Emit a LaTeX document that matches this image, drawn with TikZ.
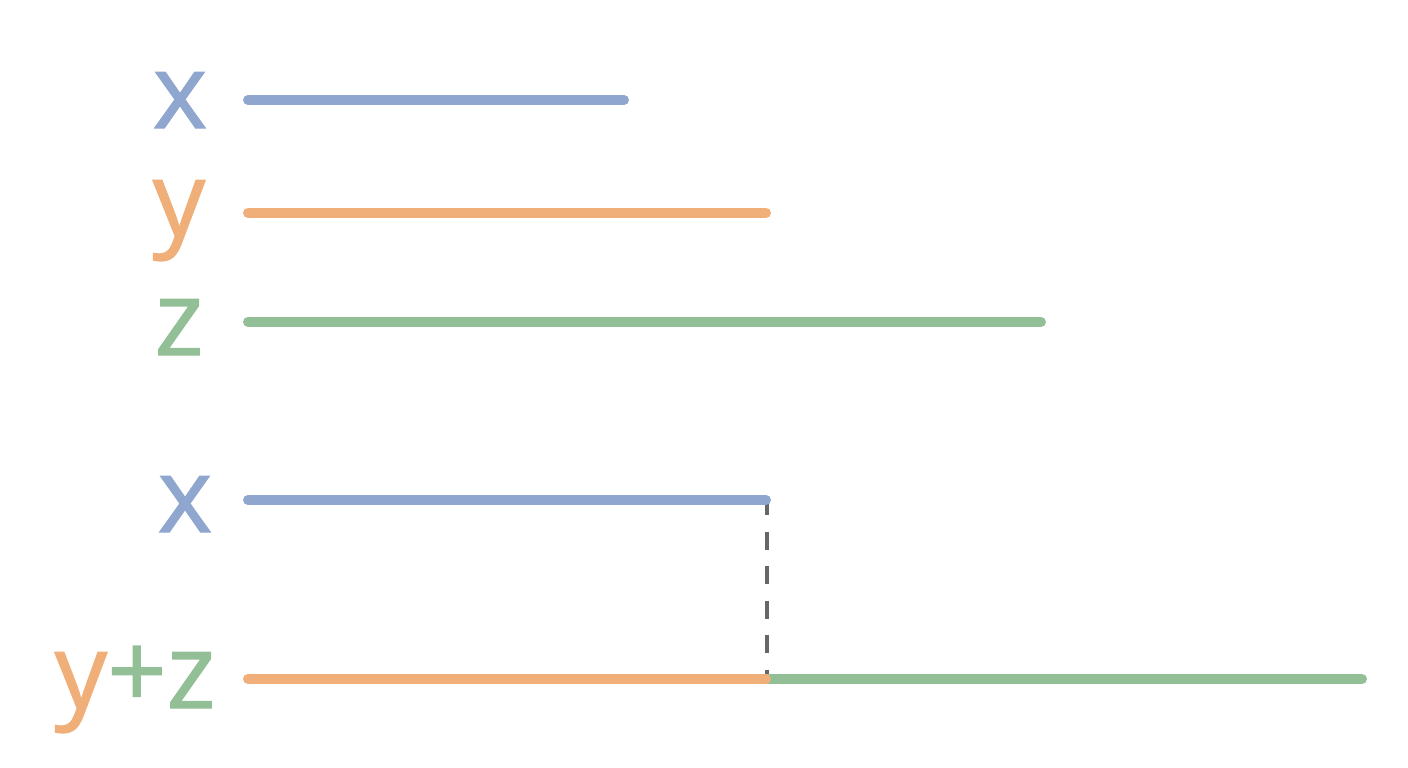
\documentclass[tikz,border=0pt]{standalone}
\usepackage{fontspec}
\setmainfont[FakeBold=1.2]{Open Sans}
\definecolor{cx}{HTML}{8FA6CF}
\definecolor{cy}{HTML}{F0AE79}
\definecolor{cz}{HTML}{93BF97}
\definecolor{cd}{HTML}{666666}
\begin{document}
\begin{tikzpicture}[x=1pt,y=-1pt,
  bar/.style={line width=10pt,line cap=round},
  lbl/.style={anchor=base,inner sep=0pt,font=\fontsize{104}{120}\selectfont},
  guide/.style={line width=3.5pt,cd,dash pattern=on 18pt off 16.5pt}]
\useasboundingbox (0,0) rectangle (1408,768);
% labels
\node[lbl,text=cx] (lx) at (180,128) {x};
\node[lbl,text=cy] (ly) at (179,236) {y};
\node[lbl,text=cz] (lz) at (179,355) {z};
\node[lbl,text=cx] (lx2) at (185,532) {x};
\node[lbl] (lyz) at (135,708) {\textcolor{cy}{y}\textcolor{cz}{+z}};
% coordinates
\coordinate (xa) at (248,100); \coordinate (xb) at (624,100);
\coordinate (ya) at (248,213); \coordinate (yb) at (766,213);
\coordinate (za) at (248,322); \coordinate (zb) at (1041,322);
\coordinate (x2a) at (248,500); \coordinate (x2b) at (766,500);
\coordinate (ra) at (248,679); \coordinate (rm) at (766,679); \coordinate (rb) at (1362,679);
\coordinate (da) at (767,497); \coordinate (db) at (767,679);
% guide
\draw[guide] (da) -- (db);
% bars
\draw[bar,cx] (xa) -- (xb);
\draw[bar,cy] (ya) -- (yb);
\draw[bar,cz] (za) -- (zb);
\draw[bar,cx] (x2a) -- (x2b);
\draw[bar,cz] (rm) -- (rb);
\draw[bar,cy] (ra) -- (rm);
\end{tikzpicture}
\end{document}
